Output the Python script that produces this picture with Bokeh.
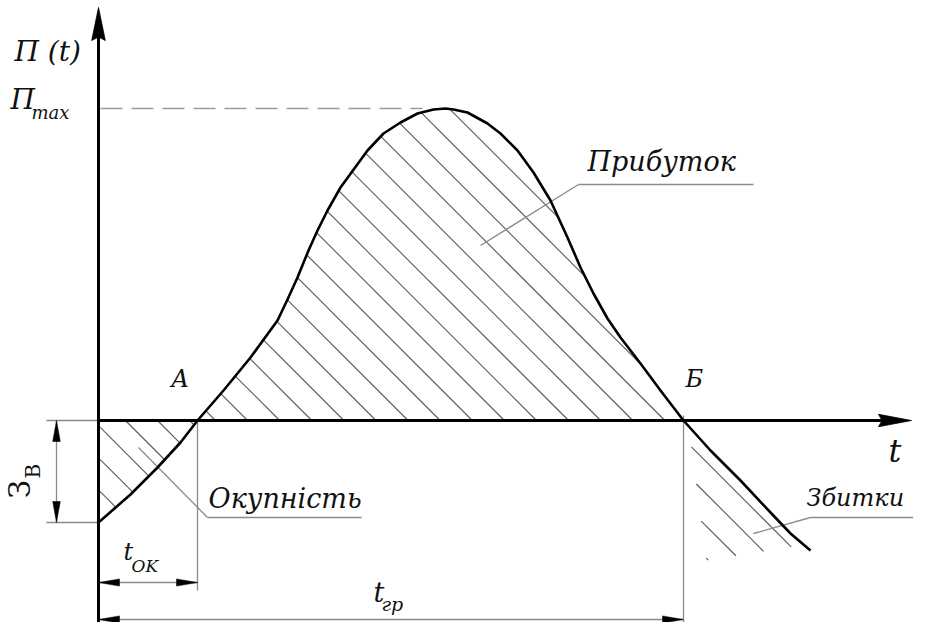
import numpy as np
from bokeh.plotting import figure
from bokeh.models import Range1d
from bokeh.core.properties import value
from bokeh.embed import file_html
from bokeh.resources import INLINE

# ---- data (t: time units, P: profit units) ----
curve_t = [0, 3.2, 5.9, 8.2, 9.9, 12.5, 15.2, 17.9, 18.9, 19.9, 21.0, 21.9, 22.9, 24.2,
           26.9, 28.5, 30.2, 31.9, 33.5, 34.7, 35.5, 36.9, 38.9, 40.2, 41.9, 43.5, 45.2,
           46.9, 48.2, 49.5, 50.9, 52.2, 54.2, 56.2, 58.5, 61.2, 64.2, 67.2, 69.2, 71.2]
curve_p = [-10.2, -7.4, -4.7, -2.2, 0, 3.0, 6.3, 10.0, 12.1, 14.3, 17.0, 19.0, 21.0, 23.3,
           27.0, 28.7, 29.8, 30.7, 31.1, 31.2, 31.1, 30.8, 29.7, 28.7, 27.0, 24.8, 22.0,
           18.3, 15.3, 12.7, 10.2, 8.3, 5.7, 3.0, 0, -3.0, -6.0, -9.2, -11.3, -13.0]
t_A = 9.9        # payback point A
t_B = 58.5       # point Б
P_max = 31.2
Z_B = 10.2       # investment
t_peak = 34.7

loss2_tail_t = [69.5, 60.8, 59.0]
loss2_tail_p = [-12.6, -14.0, -0.5]

label_text = ["П (t)", "П", "max", "A", "Б", "t", "Прибуток", "Окупність", "Збитки",
              "t", "OK", "t", "гр", "З", "B"]
label_t = [-8.4, -8.8, -6.7, 7.3, 58.7, 79.0, 48.9, 11.0, 70.8,
           2.5, 3.3, 27.5, 28.3, -6.8, -5.8]
label_p = [35.8, 31.0, 30.1, 3.2, 3.2, -4.3, 24.9, -8.8, -8.7,
           -14.1, -15.2, -18.2, -19.1, -7.8, -5.8]
label_size = [28, 28, 18, 24, 24, 32, 27, 27, 24,
              24, 17, 27, 19, 30, 20]
label_style = ["italic"] * 13 + ["normal", "normal"]
label_rot = [False] * 13 + [True, True]

p = figure(width=913, height=622, x_range=Range1d(-9.8, 81.5), y_range=Range1d(-20.2, 42.0),
           output_backend="svg", toolbar_location=None, x_axis_location=None,
           y_axis_location=None, min_border=0, outline_line_color=None)
p.xgrid.visible = False
p.ygrid.visible = False
p.background_fill_color = "white"

def hatch(poly_t, poly_p, phase, step=3.21):
    xs, ys = [], []
    n = len(poly_t)
    tot = [a + b for a, b in zip(poly_t, poly_p)]
    for k in range(-40, 40):
        c = phase + step * k
        if c < min(tot) or c > max(tot):
            continue
        pts = []
        for i in range(n):
            t1, p1 = poly_t[i], poly_p[i]
            t2, p2 = poly_t[(i + 1) % n], poly_p[(i + 1) % n]
            f1, f2 = t1 + p1 - c, t2 + p2 - c
            if (f1 > 0) != (f2 > 0):
                s = f1 / (f1 - f2)
                pts.append((t1 + s * (t2 - t1), p1 + s * (p2 - p1)))
        pts.sort()
        for j in range(0, len(pts) - 1, 2):
            xs.append([pts[j][0], pts[j + 1][0]])
            ys.append([pts[j][1], pts[j + 1][1]])
    return xs, ys

ct = np.array(curve_t)
cp = np.array(curve_p)
m = (ct >= t_A) & (ct <= t_B)
hx, hy = hatch(list(ct[m]), list(cp[m]), 11.7)
m1 = ct <= t_A
l1x, l1y = hatch([0] + list(ct[m1]), [0] + list(cp[m1]), 5.9)
m2 = (ct >= t_B) & (ct <= 69.3)
l2x, l2y = hatch(list(ct[m2]) + loss2_tail_t, list(cp[m2]) + loss2_tail_p, 11.7)
p.multi_line(hx + l1x + l2x, hy + l1y + l2y, line_color="#5a5a5a", line_width=1.1)

p.line([0.2, t_peak - 2.3], [P_max, P_max], line_color="#9a9a9a", line_width=1.6,
       line_dash="22 9")

gray = "#8a8a8a"
seg_x0 = [-5.2, -5.2, -4.2, t_A, 0, t_B, 0,
          48.0, 48.0, 10.9, 10.9, 71.2, 71.2]
seg_y0 = [0, -Z_B, 0, 0, -16.2, 0.5, -19.9,
          23.6, 23.6, -9.7, -9.7, -9.7, -9.7]
seg_x1 = [0, 0, -4.2, t_A, t_A, t_B, t_B,
          65.5, 38.2, 26.3, 4.0, 81.5, 65.5]
seg_y1 = [0, -Z_B, -Z_B, -17.0, -16.2, -20.8, -19.9,
          23.6, 17.5, -9.7, -2.7, -9.7, -11.3]
p.segment(seg_x0, seg_y0, seg_x1, seg_y1, line_color=gray, line_width=1.3)

def head(tx, ty, dx, dy, length, hw, notch):
    nx, ny = -dy, dx
    bx, by = tx - dx * length, ty - dy * length
    xs = [tx, bx + nx * hw, bx + dx * notch, bx - nx * hw]
    ys = [ty, by + ny * hw, by + dy * notch, by - ny * hw]
    return xs, ys

heads = [head(-4.2, 0, 0, 1, 2.1, 0.38, 0), head(-4.2, -Z_B, 0, -1, 2.1, 0.38, 0),
         head(0, -16.2, -1, 0, 2.1, 0.36, 0), head(t_A, -16.2, 1, 0, 2.1, 0.36, 0),
         head(0, -19.9, -1, 0, 2.1, 0.36, 0), head(t_B, -19.9, 1, 0, 2.1, 0.36, 0)]
p.patches([h[0] for h in heads], [h[1] for h in heads], fill_color="black", line_color="black",
          line_width=0.5)

p.line([0, 79.0], [0, 0], line_color="black", line_width=3)
p.line([0, 0], [-20.2, 39.0], line_color="black", line_width=3)
ax_heads = [head(81.3, 0, 1, 0, 3.3, 0.62, 0.35), head(0, 41.3, 0, 1, 3.3, 0.68, 0.35)]
p.patches([h[0] for h in ax_heads], [h[1] for h in ax_heads], fill_color="black",
          line_color="black", line_width=0.8)

p.line(curve_t, curve_p, line_color="black", line_width=2.6, line_join="round")

# labels (baseline shift compensates the renderer's baseline offset, 10 px per unit)
k_base = 0.38
for i in range(len(label_text)):
    sz = label_size[i]
    if label_rot[i]:
        x, y, ang = label_t[i] - k_base * sz / 10.0, label_p[i], np.pi / 2
    else:
        x, y, ang = label_t[i], label_p[i] + k_base * sz / 10.0, 0.0
    p.text(x=[x], y=[y], text=[label_text[i]],
           text_font=value("DejaVu Serif"), text_font_size=f"{sz}px",
           text_font_style=label_style[i], angle=ang,
           text_align="left", text_baseline="alphabetic", text_color="#111111")

open("out.html", "w").write(file_html(p, INLINE))
